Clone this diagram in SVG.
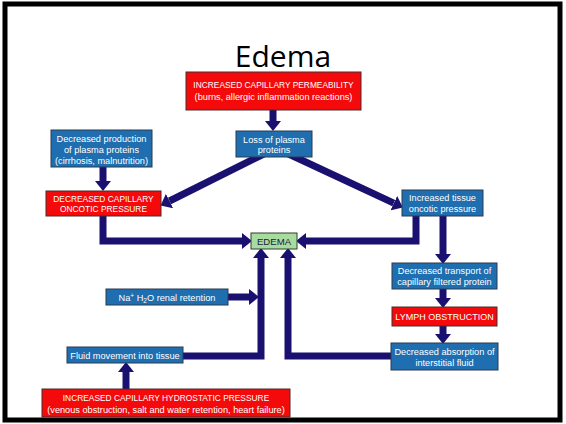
<svg xmlns="http://www.w3.org/2000/svg" width="566" height="424" viewBox="0 0 566 424">
<defs>
<marker id="ah" markerUnits="userSpaceOnUse" markerWidth="10" markerHeight="16" viewBox="0 0 10 16" refX="0" refY="8" orient="auto"><path d="M0,0 L10,8 L0,16 Z" fill="#1a1070"/></marker>
<style>
.c{fill:none;stroke:#1a1070;stroke-width:7;stroke-linejoin:miter;marker-end:url(#ah)}
.b{fill:#1e6eb0;stroke:#2a3a50;stroke-width:1}
.r{fill:#f40a0a;stroke:#4a2a2a;stroke-width:1}
.g{fill:#a8dba0;stroke:#2f3f2f;stroke-width:1}
text{font-family:"Liberation Sans",Arial,sans-serif;font-size:9.2px;fill:#fff;text-anchor:middle;dominant-baseline:central}
text.u{font-size:8.4px}
.dk{fill:#1a1a40}
</style>
</defs>
<rect x="0" y="0" width="566" height="424" fill="#fff"/>
<rect x="5" y="4" width="555" height="416" fill="none" stroke="#000" stroke-width="5"/>
<text x="283" y="55" style="font-family:'Open Sans','Liberation Sans',sans-serif;font-size:30px;fill:#000">Edema</text>
<g id="connectors">
<path class="c" d="M273,110 V121"/>
<path class="c" d="M103,167 V181"/>
<path class="c" d="M272,150 L169.5,201"/>
<path class="c" d="M280,150 L393.8,203.2"/>
<path class="c" d="M103,214 V241 H242"/>
<path class="c" d="M416,214 V241 H306"/>
<path class="c" d="M443,214 V254"/>
<path class="c" d="M443,287 V298"/>
<path class="c" d="M443,324 V334"/>
<path class="c" d="M393,356 H288 V258"/>
<path class="c" d="M181,356 H261 V258"/>
<path class="c" d="M226,297 H249"/>
<path class="c" d="M126,391 V372"/>
</g>
<g id="increased-permeability"><rect class="r" x="186" y="72" width="175" height="38"/><text class="u" x="273.5" y="85">INCREASED CAPILLARY PERMEABILITY</text><text x="273.5" y="96.5">(burns, allergic inflammation reactions)</text></g>
<g id="loss-plasma"><rect class="b" x="236" y="131" width="76" height="26"/><text x="274" y="139.5">Loss of plasma</text><text x="274" y="150">proteins</text></g>
<g id="decreased-production"><rect class="b" x="51" y="130" width="101" height="37"/><text x="101.5" y="138.5">Decreased production</text><text x="101.5" y="149.5">of plasma proteins</text><text x="101.5" y="160.5">(cirrhosis, malnutrition)</text></g>
<g id="decreased-oncotic"><rect class="r" x="46" y="191" width="115" height="25"/><text class="u" x="103.5" y="198.5">DECREASED CAPILLARY</text><text class="u" x="103.5" y="208.5">ONCOTIC PRESSURE</text></g>
<g id="increased-tissue"><rect class="b" x="402" y="190" width="81" height="26"/><text x="442.5" y="198">Increased tissue</text><text x="442.5" y="209">oncotic pressure</text></g>
<g id="edema"><rect class="g" x="251" y="233" width="46" height="16"/><text class="dk" x="274" y="241.5" style="font-size:9.6px">EDEMA</text></g>
<g id="decreased-transport"><rect class="b" x="392" y="263" width="105" height="26"/><text x="444.5" y="270.5">Decreased transport of</text><text x="444.5" y="281.5">capillary filtered protein</text></g>
<g id="lymph"><rect class="r" x="392" y="307" width="105" height="19"/><text x="444.5" y="317" style="font-size:9px">LYMPH OBSTRUCTION</text></g>
<g id="decreased-absorption"><rect class="b" x="391" y="343" width="107" height="27"/><text x="444.5" y="351.5">Decreased absorption of</text><text x="444.5" y="362.5">interstitial fluid</text></g>
<g id="renal-retention"><rect class="b" x="106" y="289" width="122" height="16"/><text x="167" y="297.5">Na<tspan dy="-3" font-size="6.5">+</tspan><tspan dy="3"> H</tspan><tspan dy="2" font-size="6.5">2</tspan><tspan dy="-2">O renal retention</tspan></text></g>
<g id="fluid-movement"><rect class="b" x="67" y="347" width="116" height="16"/><text x="125" y="355.5">Fluid movement into tissue</text></g>
<g id="hydrostatic"><rect class="r" x="42" y="389" width="248" height="28"/><text class="u" x="166" y="398">INCREASED CAPILLARY HYDROSTATIC PRESSURE</text><text x="166" y="409.5">(venous obstruction, salt and water retention, heart failure)</text></g>
</svg>
